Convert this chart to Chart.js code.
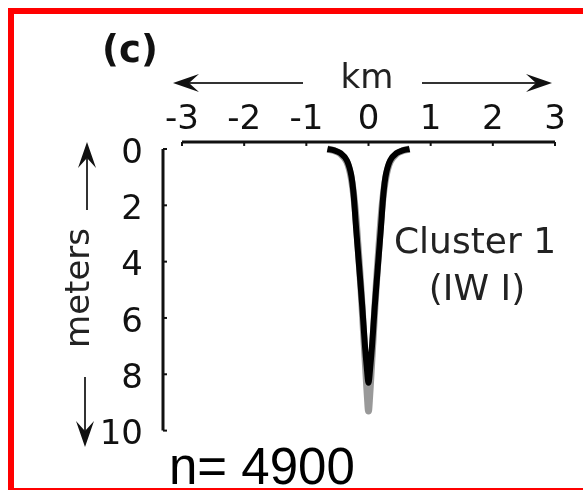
<!DOCTYPE html>
<html>
<head>
<meta charset="utf-8">
<script src="https://cdn.jsdelivr.net/npm/chart.js@4.4.0/dist/chart.umd.min.js"></script>
<style>
  html, body { margin: 0; padding: 0; background: #fff; overflow: hidden; }
  #wrap { position: absolute; left: 0; top: 0; width: 583px; height: 490px; }
  #frame {
    position: absolute; left: 8px; top: 8px; width: 600px; height: 486px;
    box-sizing: border-box; border: 6px solid #ff0000; border-right: none;
    pointer-events: none;
  }
</style>
</head>
<body>
<div id="wrap"><canvas id="chart"></canvas></div>
<div id="frame"></div>
<script>
// ticks
const kmTicks = [-3, -2, -1, 0, 1, 2, 3];
const depthTicks = [0, 2, 4, 6, 8, 10];

// mean profile (black)
const meanKm = [-0.66, -0.55, -0.45, -0.35, -0.28, -0.24, -0.2, -0.15, -0.1, -0.06, -0.03, 0,
  0.03, 0.06, 0.1, 0.15, 0.2, 0.24, 0.28, 0.35, 0.45, 0.55, 0.66];
const meanDepth = [0.0, 0.05, 0.15, 0.4, 0.9, 1.6, 2.8, 4.2, 5.6, 6.9, 7.7, 8.3,
  7.7, 6.9, 5.6, 4.2, 2.8, 1.6, 0.9, 0.4, 0.15, 0.05, 0.0];

// spread of members (grey)
const spreadKm = [-0.66, -0.55, -0.45, -0.35, -0.28, -0.22, -0.17, -0.12, -0.08, -0.04, -0.015, 0,
  0.015, 0.04, 0.08, 0.12, 0.17, 0.22, 0.28, 0.35, 0.45, 0.55, 0.66];
const spreadDepth = [0.0, 0.06, 0.17, 0.45, 1.0, 2.0, 3.4, 5.0, 6.5, 8.0, 8.9, 9.3,
  8.9, 8.0, 6.5, 5.0, 3.4, 2.0, 1.0, 0.45, 0.17, 0.06, 0.0];

const panelLabel = '(c)';
const xTitle = 'km';
const yTitle = 'meters';
const clusterLines = ['Cluster 1', '(IW I)'];
const countText = 'n= 4900';

const toPoints = (xs, ys) => xs.map((x, i) => ({ x: x, y: ys[i] }));

function arrow(ctx, x1, y1, x2, y2) {
  // line with a stealth head at (x2, y2)
  const ang = Math.atan2(y2 - y1, x2 - x1);
  const len = 26, half = 9, notch = 16;
  ctx.save();
  ctx.strokeStyle = '#333';
  ctx.lineWidth = 2;
  ctx.beginPath();
  ctx.moveTo(x1, y1);
  ctx.lineTo(x2 - Math.cos(ang) * notch, y2 - Math.sin(ang) * notch);
  ctx.stroke();
  ctx.translate(x2, y2);
  ctx.rotate(ang);
  ctx.fillStyle = '#111';
  ctx.beginPath();
  ctx.moveTo(0, 0);
  ctx.lineTo(-len, -half);
  ctx.lineTo(-notch, 0);
  ctx.lineTo(-len, half);
  ctx.closePath();
  ctx.fill();
  ctx.restore();
}

const decorations = {
  id: 'decorations',
  afterDraw(chart) {
    const ctx = chart.ctx;
    const xs = chart.scales.x, ys = chart.scales.y;
    const area = chart.chartArea;
    ctx.save();

    // top km axis line with inward ticks
    const topY = ys.getPixelForValue(-0.25);
    ctx.strokeStyle = '#111';
    ctx.lineWidth = 3;
    ctx.beginPath();
    ctx.moveTo(xs.getPixelForValue(-3), topY);
    ctx.lineTo(xs.getPixelForValue(3), topY);
    ctx.stroke();
    ctx.lineWidth = 2;
    kmTicks.forEach(v => {
      const px = xs.getPixelForValue(v);
      ctx.beginPath();
      ctx.moveTo(px, topY);
      ctx.lineTo(px, topY + 4);
      ctx.stroke();
    });

    // left depth axis line (offset from plot)
    const axX = area.left - 19;
    ctx.lineWidth = 3;
    ctx.beginPath();
    ctx.moveTo(axX, ys.getPixelForValue(0));
    ctx.lineTo(axX, ys.getPixelForValue(10));
    ctx.stroke();
    ctx.lineWidth = 2;
    depthTicks.forEach(v => {
      const py = ys.getPixelForValue(v);
      ctx.beginPath();
      ctx.moveTo(axX, py);
      ctx.lineTo(axX + 4, py);
      ctx.stroke();
    });

    // panel label
    ctx.fillStyle = '#111';
    ctx.textAlign = 'center';
    ctx.textBaseline = 'middle';
    ctx.font = 'bold 37px "DejaVu Sans"';
    ctx.fillText(panelLabel, 130, 52);

    // km title with arrows
    ctx.font = '34px "DejaVu Sans"';
    ctx.fillStyle = '#222';
    ctx.fillText(xTitle, 367, 79);
    arrow(ctx, 303, 83, 173, 83);
    arrow(ctx, 422, 83, 552, 83);

    // meters title with arrows
    ctx.save();
    ctx.translate(80, 288);
    ctx.rotate(-Math.PI / 2);
    ctx.fillText(yTitle, 0, 0);
    ctx.restore();
    arrow(ctx, 87, 210, 87, 142);
    arrow(ctx, 85, 377, 85, 447);

    // cluster label
    ctx.font = '36px "DejaVu Sans"';
    ctx.fillStyle = '#222';
    ctx.fillText(clusterLines[0], 475, 244);
    ctx.fillText(clusterLines[1], 477, 291);

    // sample count
    ctx.font = '51px "Liberation Sans"';
    ctx.fillStyle = '#000';
    ctx.textAlign = 'left';
    ctx.textBaseline = 'alphabetic';
    ctx.fillText(countText, 169, 484);

    ctx.restore();
  }
};

new Chart(document.getElementById('chart'), {
  type: 'line',
  data: {
    datasets: [{
      label: 'mean',
      data: toPoints(meanKm, meanDepth),
      borderColor: '#000',
      borderWidth: 6,
      pointRadius: 0,
      tension: 0.3,
      fill: false,
      clip: false
    }, {
      label: 'members',
      data: toPoints(spreadKm, spreadDepth),
      borderColor: 'rgba(135, 135, 135, 0.85)',
      borderWidth: 7,
      pointRadius: 0,
      tension: 0.3,
      fill: false,
      clip: false
    }]
  },
  options: {
    responsive: true,
    maintainAspectRatio: false,
    animation: false,
    events: [],
    layout: { padding: { left: 0, top: 0, right: 28, bottom: 49 } },
    plugins: { legend: { display: false }, tooltip: { enabled: false } },
    scales: {
      x: {
        type: 'linear',
        position: 'top',
        min: -3,
        max: 3,
        afterFit: s => { s.height = 149; },
        afterBuildTicks: s => { s.ticks = kmTicks.map(v => ({ value: v })); },
        border: { display: false },
        grid: { display: false, drawTicks: false },
        ticks: {
          color: '#111',
          padding: 8,
          maxRotation: 0,
          font: { family: 'DejaVu Sans', size: 34 }
        }
      },
      y: {
        type: 'linear',
        reverse: true,
        min: 0,
        max: 10,
        afterFit: s => { s.width = 182; },
        afterBuildTicks: s => { s.ticks = depthTicks.map(v => ({ value: v })); },
        border: { display: false },
        grid: { display: false, drawTicks: false },
        ticks: {
          color: '#111',
          padding: 39,
          labelOffset: 5,
          font: { family: 'DejaVu Sans', size: 34 }
        }
      }
    }
  },
  plugins: [decorations]
});
</script>
</body>
</html>
